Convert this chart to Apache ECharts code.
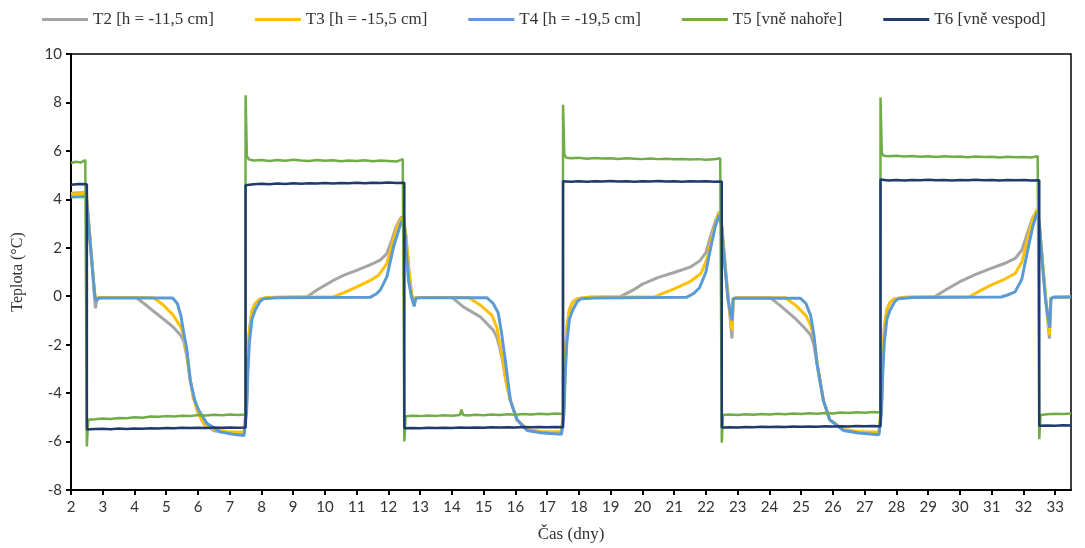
<!DOCTYPE html>
<html><head><meta charset="utf-8">
<script src="https://cdn.jsdelivr.net/npm/echarts@6/dist/echarts.min.js"></script>
<style>html,body{margin:0;padding:0;background:#fff}#c{width:1085px;height:548px}</style>
</head><body><div id="c"></div>
<script>
const seriesNames = ['T2 [h = -11,5 cm]', 'T3 [h = -15,5 cm]', 'T4 [h = -19,5 cm]', 'T5 [vně nahoře]', 'T6 [vně vespod]'];
const xTicks = [2,3,4,5,6,7,8,9,10,11,12,13,14,15,16,17,18,19,20,21,22,23,24,25,26,27,28,29,30,31,32,33];
const yTicks = [-8,-6,-4,-2,0,2,4,6,8,10];

const t2 = [[2,4.25],[2.3,4.27],[2.48,4.28],[2.55,3.2],[2.65,1.6],[2.72,0.3],[2.77,-0.5],[2.82,-0.1],[2.9,-0.05],[3.5,-0.05],[4.05,-0.05],[4.3,-0.3],[4.6,-0.62],[4.9,-0.93],[5.2,-1.25],[5.45,-1.6],[5.55,-1.85],[5.65,-2.5],[5.75,-3.4],[5.85,-4.15],[6.0,-4.8],[6.2,-5.3],[6.5,-5.55],[7.0,-5.65],[7.45,-5.68],[7.5,-5.68],[7.53,-4.5],[7.57,-2.6],[7.62,-1.4],[7.7,-0.6],[7.8,-0.3],[7.95,-0.12],[8.2,-0.05],[9.0,-0.03],[9.43,-0.02],[9.8,0.3],[10.27,0.66],[10.6,0.87],[11.0,1.07],[11.4,1.28],[11.74,1.49],[11.95,1.76],[12.1,2.3],[12.25,2.9],[12.4,3.25],[12.47,3.3],[12.55,2.5],[12.65,1.0],[12.73,0.1],[12.8,-0.3],[12.85,-0.05],[13.5,-0.05],[14.0,-0.05],[14.36,-0.44],[14.9,-0.86],[15.3,-1.4],[15.41,-1.68],[15.5,-2.1],[15.6,-2.7],[15.7,-3.5],[15.84,-4.3],[16.05,-5.1],[16.37,-5.52],[16.8,-5.62],[17.45,-5.66],[17.5,-5.66],[17.53,-4.5],[17.57,-2.5],[17.62,-1.3],[17.7,-0.55],[17.8,-0.25],[17.95,-0.1],[18.3,-0.04],[19.3,-0.02],[19.7,0.25],[20.0,0.5],[20.5,0.78],[21.0,0.98],[21.5,1.2],[21.8,1.45],[22.0,1.8],[22.15,2.5],[22.3,3.1],[22.42,3.48],[22.5,2.9],[22.6,1.4],[22.7,0.0],[22.82,-1.74],[22.86,-0.1],[22.95,-0.06],[23.5,-0.06],[24.03,-0.06],[24.4,-0.45],[24.8,-0.9],[25.1,-1.3],[25.3,-1.6],[25.4,-2.0],[25.5,-2.8],[25.7,-4.3],[25.9,-5.1],[26.33,-5.52],[26.8,-5.62],[27.45,-5.66],[27.5,-5.66],[27.53,-4.5],[27.57,-2.5],[27.62,-1.3],[27.7,-0.55],[27.8,-0.25],[27.95,-0.1],[28.3,-0.04],[29.2,-0.02],[29.6,0.3],[30.0,0.6],[30.5,0.9],[30.96,1.14],[31.4,1.35],[31.74,1.56],[31.95,1.9],[32.1,2.5],[32.28,3.2],[32.43,3.55],[32.5,3.0],[32.6,1.5],[32.7,0.0],[32.82,-1.75],[32.86,-0.1],[32.95,-0.04],[33.5,-0.03]];

const t3 = [[2,4.22],[2.48,4.25],[2.55,3.1],[2.65,1.5],[2.75,0.1],[2.8,-0.15],[2.9,-0.05],[4.0,-0.05],[4.6,-0.06],[4.9,-0.35],[5.2,-0.75],[5.45,-1.25],[5.55,-1.6],[5.65,-2.4],[5.75,-3.4],[5.85,-4.15],[6.0,-4.8],[6.2,-5.3],[6.5,-5.5],[7.0,-5.6],[7.45,-5.62],[7.5,-5.62],[7.53,-4.5],[7.57,-2.6],[7.62,-1.4],[7.7,-0.6],[7.8,-0.3],[7.95,-0.12],[8.2,-0.05],[10.27,-0.02],[10.6,0.15],[11.0,0.39],[11.4,0.63],[11.69,0.87],[11.95,1.35],[12.15,2.3],[12.3,2.95],[12.45,3.25],[12.55,2.5],[12.65,1.0],[12.73,0.0],[12.8,-0.35],[12.85,-0.05],[14.53,-0.05],[14.9,-0.37],[15.26,-0.79],[15.41,-1.27],[15.5,-1.9],[15.6,-2.6],[15.7,-3.5],[15.84,-4.3],[16.05,-5.1],[16.37,-5.5],[16.8,-5.58],[17.45,-5.6],[17.5,-5.6],[17.53,-4.5],[17.57,-2.5],[17.62,-1.3],[17.7,-0.55],[17.8,-0.25],[17.95,-0.1],[18.3,-0.04],[20.4,-0.02],[20.7,0.15],[21.0,0.3],[21.5,0.6],[21.85,0.95],[22.05,1.6],[22.2,2.5],[22.35,3.2],[22.42,3.45],[22.5,2.9],[22.6,1.3],[22.7,-0.1],[22.82,-1.4],[22.86,-0.1],[22.95,-0.06],[24.5,-0.06],[24.85,-0.4],[25.15,-0.8],[25.3,-1.2],[25.4,-1.7],[25.5,-2.7],[25.7,-4.3],[25.9,-5.1],[26.33,-5.5],[26.8,-5.58],[27.45,-5.62],[27.5,-5.62],[27.53,-4.5],[27.57,-2.5],[27.62,-1.3],[27.7,-0.55],[27.8,-0.25],[27.95,-0.1],[28.3,-0.04],[30.3,-0.02],[30.6,0.2],[30.96,0.45],[31.4,0.7],[31.74,0.94],[31.95,1.4],[32.12,2.3],[32.3,3.2],[32.43,3.55],[32.5,3.0],[32.6,1.4],[32.7,-0.1],[32.82,-1.6],[32.86,-0.1],[32.95,-0.04],[33.5,-0.03]];

const t4 = [[2,4.1],[2.48,4.12],[2.55,3.0],[2.65,1.5],[2.75,0.0],[2.8,-0.2],[2.85,-0.08],[3.0,-0.07],[5.2,-0.07],[5.35,-0.3],[5.46,-0.8],[5.55,-1.5],[5.65,-2.2],[5.76,-3.5],[5.9,-4.3],[6.02,-4.7],[6.28,-5.25],[6.7,-5.6],[7.1,-5.7],[7.45,-5.75],[7.5,-5.75],[7.53,-4.8],[7.57,-3.2],[7.62,-1.9],[7.7,-0.95],[7.8,-0.58],[7.95,-0.22],[8.07,-0.1],[8.5,-0.06],[11.43,-0.04],[11.6,0.08],[11.74,0.25],[11.95,0.8],[12.16,2.04],[12.37,2.93],[12.45,3.15],[12.52,2.6],[12.63,0.66],[12.72,0.0],[12.81,-0.42],[12.86,-0.08],[13.0,-0.06],[15.1,-0.06],[15.3,-0.3],[15.46,-0.7],[15.56,-1.5],[15.68,-2.64],[15.84,-4.3],[16.05,-5.1],[16.37,-5.54],[16.8,-5.64],[17.45,-5.7],[17.5,-5.7],[17.53,-4.8],[17.57,-3.2],[17.62,-1.9],[17.7,-0.95],[17.8,-0.58],[17.95,-0.22],[18.07,-0.1],[18.5,-0.07],[21.4,-0.04],[21.6,0.1],[21.8,0.35],[22.0,1.0],[22.15,2.0],[22.3,2.9],[22.42,3.35],[22.5,2.8],[22.6,1.2],[22.7,-0.2],[22.82,-1.0],[22.86,-0.1],[22.95,-0.08],[24.97,-0.08],[25.15,-0.3],[25.3,-0.8],[25.4,-1.6],[25.5,-2.8],[25.7,-4.3],[25.9,-5.1],[26.33,-5.54],[26.8,-5.65],[27.45,-5.72],[27.5,-5.72],[27.53,-4.8],[27.57,-3.2],[27.62,-1.9],[27.7,-0.95],[27.8,-0.58],[27.95,-0.22],[28.07,-0.1],[28.5,-0.05],[31.3,-0.03],[31.5,0.05],[31.74,0.18],[31.95,0.7],[32.12,1.8],[32.3,2.9],[32.43,3.45],[32.5,3.0],[32.6,1.3],[32.7,-0.2],[32.83,-1.3],[32.87,-0.1],[32.95,-0.04],[33.5,-0.03]];

const t5 = [[2,5.5],[2.15,5.55],[2.3,5.52],[2.45,5.62],[2.49,5.68],[2.5,-6.2],[2.54,-5.1],[2.75,-5.08],[3,-5.05],[3.25,-5.07],[3.5,-5.03],[3.75,-5.04],[4,-5.0],[4.25,-5.02],[4.5,-4.97],[4.75,-4.98],[5,-4.95],[5.25,-4.97],[5.5,-4.93],[5.75,-4.95],[6,-4.9],[6.25,-4.92],[6.5,-4.89],[6.75,-4.91],[7,-4.88],[7.25,-4.9],[7.49,-4.88],[7.5,8.3],[7.54,5.8],[7.6,5.65],[7.75,5.6],[8,5.62],[8.25,5.58],[8.5,5.62],[8.75,5.59],[9,5.63],[9.25,5.6],[9.5,5.58],[9.75,5.62],[10,5.59],[10.25,5.61],[10.5,5.57],[10.75,5.6],[11,5.58],[11.25,5.61],[11.5,5.57],[11.75,5.6],[12,5.58],[12.25,5.56],[12.45,5.66],[12.49,5.6],[12.5,-6.0],[12.54,-4.95],[12.75,-4.93],[13,-4.95],[13.25,-4.92],[13.5,-4.94],[13.75,-4.91],[14,-4.93],[14.25,-4.9],[14.3,-4.68],[14.35,-4.9],[14.5,-4.92],[14.75,-4.89],[15,-4.91],[15.25,-4.88],[15.5,-4.9],[15.75,-4.87],[16,-4.89],[16.25,-4.86],[16.5,-4.88],[16.75,-4.85],[17,-4.87],[17.25,-4.84],[17.49,-4.86],[17.5,7.9],[17.54,5.85],[17.6,5.72],[17.75,5.7],[18,5.72],[18.25,5.68],[18.5,5.71],[18.75,5.69],[19,5.7],[19.25,5.67],[19.5,5.7],[19.75,5.68],[20,5.66],[20.25,5.69],[20.5,5.66],[20.75,5.68],[21,5.65],[21.25,5.67],[21.5,5.64],[21.75,5.66],[22,5.63],[22.25,5.65],[22.45,5.7],[22.49,5.64],[22.5,-6.05],[22.54,-4.9],[22.75,-4.88],[23,-4.9],[23.25,-4.87],[23.5,-4.89],[23.75,-4.86],[24,-4.88],[24.25,-4.85],[24.5,-4.87],[24.75,-4.84],[25,-4.86],[25.25,-4.83],[25.5,-4.85],[25.75,-4.82],[26,-4.84],[26.25,-4.8],[26.5,-4.82],[26.75,-4.79],[27,-4.81],[27.25,-4.78],[27.49,-4.8],[27.5,8.2],[27.54,5.9],[27.6,5.8],[27.75,5.78],[28,5.8],[28.25,5.77],[28.5,5.79],[28.75,5.76],[29,5.78],[29.25,5.75],[29.5,5.78],[29.75,5.76],[30,5.77],[30.25,5.74],[30.5,5.77],[30.75,5.75],[31,5.76],[31.25,5.73],[31.5,5.76],[31.75,5.74],[32,5.75],[32.25,5.73],[32.45,5.78],[32.49,5.72],[32.5,-5.9],[32.54,-4.9],[32.75,-4.87],[33,-4.85],[33.25,-4.86],[33.5,-4.84]];

const t6 = [[2,4.6],[2.25,4.63],[2.5,4.62],[2.5,-5.5],[2.75,-5.48],[3,-5.47],[3.25,-5.49],[3.5,-5.46],[3.75,-5.48],[4,-5.46],[4.25,-5.47],[4.5,-5.45],[4.75,-5.46],[5,-5.44],[5.25,-5.45],[5.5,-5.43],[5.75,-5.44],[6,-5.43],[6.25,-5.44],[6.5,-5.42],[6.75,-5.43],[7,-5.42],[7.25,-5.43],[7.5,-5.42],[7.5,4.58],[7.75,4.62],[8,4.64],[8.25,4.62],[8.5,4.65],[8.75,4.63],[9,4.66],[9.25,4.64],[9.5,4.66],[9.75,4.65],[10,4.67],[10.25,4.65],[10.5,4.67],[10.75,4.66],[11,4.68],[11.25,4.66],[11.5,4.68],[11.75,4.67],[12,4.69],[12.25,4.67],[12.5,4.68],[12.5,-5.45],[12.75,-5.44],[13,-5.45],[13.25,-5.43],[13.5,-5.44],[13.75,-5.43],[14,-5.44],[14.25,-5.42],[14.5,-5.43],[14.75,-5.42],[15,-5.43],[15.25,-5.41],[15.5,-5.42],[15.75,-5.41],[16,-5.42],[16.25,-5.4],[16.5,-5.41],[16.75,-5.4],[17,-5.41],[17.25,-5.4],[17.5,-5.41],[17.5,4.75],[17.75,4.73],[18,4.75],[18.25,4.73],[18.5,4.75],[18.75,4.74],[19,4.76],[19.25,4.74],[19.5,4.75],[19.75,4.73],[20,4.75],[20.25,4.74],[20.5,4.76],[20.75,4.74],[21,4.75],[21.25,4.73],[21.5,4.75],[21.75,4.74],[22,4.75],[22.25,4.73],[22.5,4.74],[22.5,-5.42],[22.75,-5.41],[23,-5.42],[23.25,-5.4],[23.5,-5.41],[23.75,-5.39],[24,-5.4],[24.25,-5.39],[24.5,-5.4],[24.75,-5.38],[25,-5.39],[25.25,-5.38],[25.5,-5.39],[25.75,-5.37],[26,-5.38],[26.25,-5.37],[26.5,-5.38],[26.75,-5.36],[27,-5.37],[27.25,-5.36],[27.5,-5.37],[27.5,4.82],[27.75,4.78],[28,4.8],[28.25,4.78],[28.5,4.8],[28.75,4.79],[29,4.81],[29.25,4.79],[29.5,4.8],[29.75,4.78],[30,4.8],[30.25,4.79],[30.5,4.81],[30.75,4.79],[31,4.8],[31.25,4.78],[31.5,4.8],[31.75,4.79],[32,4.8],[32.25,4.78],[32.5,4.79],[32.5,-5.35],[32.75,-5.34],[33,-5.35],[33.25,-5.33],[33.5,-5.34]];

const colors = ['#A5A5A5', '#FFC000', '#5B9BD5', '#70AD47', '#203A6E'];
const dataSets = [t2, t3, t4, t5, t6];
const widths = [3, 3, 3, 2.5, 2.5];

const chart = echarts.init(document.getElementById('c'), null, {renderer: 'canvas'});
chart.setOption({
  animation: false,
  backgroundColor: '#fff',
  color: colors,
  legend: {
    data: seriesNames,
    left: 37, top: 6,
    itemWidth: 46, itemHeight: 3, itemGap: 41,
    icon: 'rect',
    textStyle: {fontFamily: 'Liberation Serif', fontSize: 17, color: '#333'}
  },
  grid: {left: 71, right: 14, top: 54, bottom: 57, show: true, borderColor: '#000', borderWidth: 1.5, backgroundColor: 'transparent'},
  xAxis: {
    type: 'value', min: 2, max: 33.5, interval: 1,
    name: 'Čas (dny)', nameLocation: 'middle', nameGap: 36,
    nameTextStyle: {fontFamily: 'Liberation Serif', fontSize: 17, color: '#333'},
    axisLine: {onZero: false, lineStyle: {color: '#000', width: 2}},
    axisTick: {show: true, length: 5, lineStyle: {color: '#000', width: 2}, customValues: xTicks},
    axisLabel: {customValues: xTicks, fontFamily: 'Lato', fontSize: 15, color: '#333', margin: 10},
    splitLine: {show: false}
  },
  yAxis: {
    type: 'value', min: -8, max: 10, interval: 2,
    name: 'Teplota (°C)', nameLocation: 'middle', nameGap: 45,
    nameTextStyle: {fontFamily: 'Liberation Serif', fontSize: 16, color: '#333'},
    axisLine: {show: true, onZero: false, lineStyle: {color: '#000', width: 2}},
    axisTick: {show: true, length: 5, lineStyle: {color: '#000', width: 2}},
    axisLabel: {fontFamily: 'Lato', fontSize: 15, color: '#333', margin: 9},
    splitLine: {show: false}
  },
  series: seriesNames.map((n, i) => ({
    name: n, type: 'line', data: dataSets[i], showSymbol: false, symbol: 'none',
    lineStyle: {color: colors[i], width: widths[i]}, itemStyle: {color: colors[i]}
  }))
});
</script></body></html>
